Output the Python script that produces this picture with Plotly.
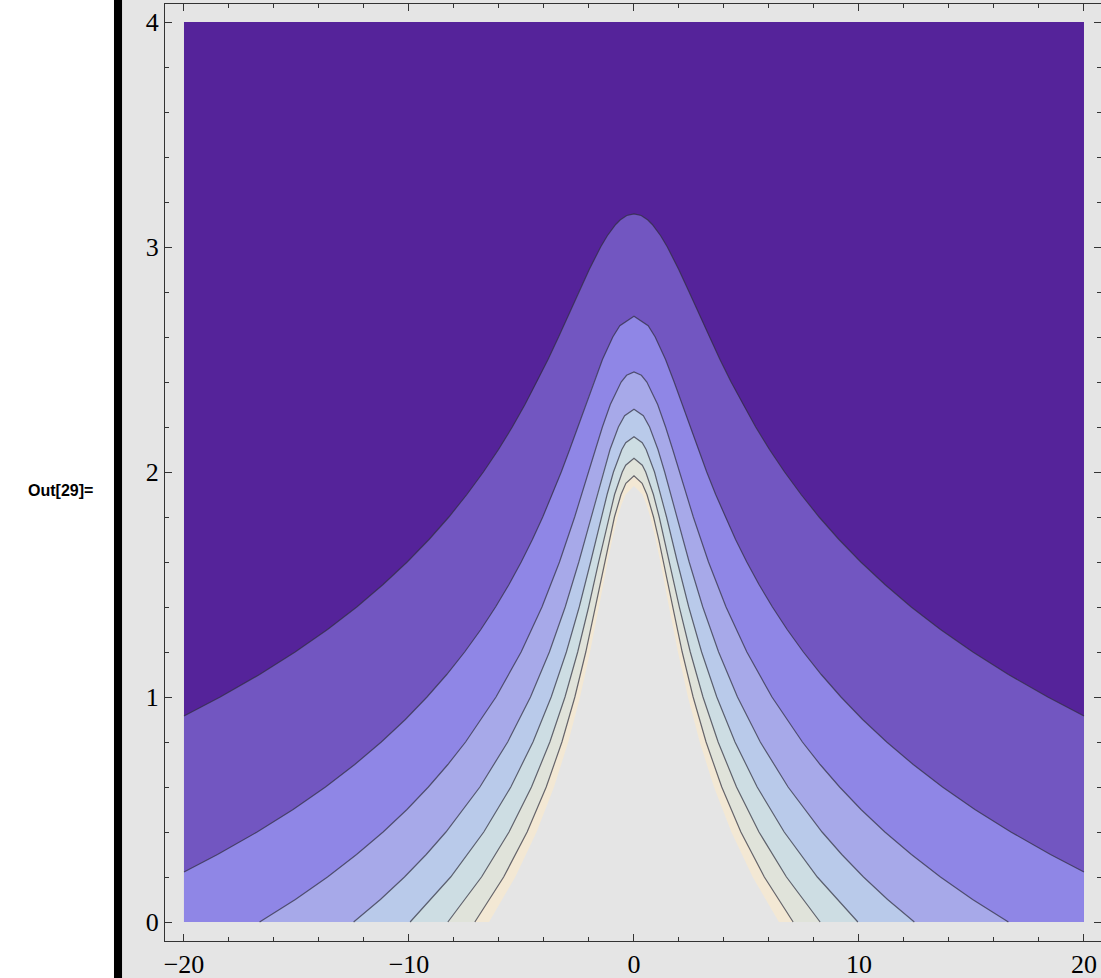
import plotly.graph_objects as go

# ---- data (right half; the plot is symmetric in x) ----
x_range = [-20, 20]
y_range = [0, 4]

c1_y = [3.147, 3.14, 3.12, 3.1, 3.05, 3.0, 2.9, 2.8, 2.7, 2.6, 2.5, 2.4, 2.3, 2.2, 2.1, 2.0, 1.9, 1.8, 1.7, 1.6, 1.5, 1.4, 1.3, 1.2, 1.1, 1.0, 0.916]
c1_x = [0, 0.321, 0.617, 0.813, 1.185, 1.482, 1.988, 2.450, 2.898, 3.352, 3.820, 4.315, 4.844, 5.408, 6.02, 6.693, 7.426, 8.226, 9.108, 10.08, 11.15, 12.32, 13.62, 15.06, 16.64, 18.39, 20.0]

c2_y = [2.6925, 2.65, 2.6, 2.5, 2.4, 2.3, 2.2, 2.1, 2.0, 1.9, 1.8, 1.7, 1.6, 1.5, 1.4, 1.3, 1.2, 1.1, 1.0, 0.9, 0.8, 0.7, 0.6, 0.5, 0.4, 0.3, 0.222]
c2_x = [0, 0.630, 0.942, 1.402, 1.784, 2.144, 2.497, 2.858, 3.232, 3.630, 4.055, 4.514, 5.012, 5.555, 6.152, 6.806, 7.527, 8.322, 9.198, 10.16, 11.23, 12.41, 13.71, 15.15, 16.75, 18.51, 20.0]

c3_y = [2.445, 2.43, 2.4, 2.3, 2.2, 2.1, 2.0, 1.8, 1.6, 1.4, 1.2, 1.0, 0.8, 0.7, 0.6, 0.5, 0.4, 0.3, 0.2, 0.1, 0.0]
c3_x = [0, 0.329, 0.571, 1.052, 1.404, 1.720, 2.021, 2.636, 3.311, 4.090, 5.016, 6.132, 7.485, 8.272, 9.138, 10.09, 11.15, 12.33, 13.62, 15.05, 16.64]

c4_y = [2.279, 2.25, 2.2, 2.1, 2.0, 1.9, 1.8, 1.6, 1.4, 1.2, 1.0, 0.8, 0.6, 0.4, 0.3, 0.2, 0.1, 0.0]
c4_x = [0, 0.416, 0.692, 1.065, 1.363, 1.639, 1.905, 2.452, 3.057, 3.760, 4.599, 5.613, 6.848, 8.358, 9.234, 10.20, 11.27, 12.46]

c5_y = [2.157, 2.13, 2.1, 2.0, 1.9, 1.8, 1.6, 1.4, 1.2, 1.0, 0.8, 0.6, 0.4, 0.2, 0.0]
c5_x = [0, 0.367, 0.539, 0.912, 1.195, 1.446, 1.928, 2.433, 3.005, 3.679, 4.489, 5.474, 6.676, 8.148, 9.950]

c6_y = [2.061, 2.03, 2.0, 1.9, 1.8, 1.6, 1.4, 1.2, 1.0, 0.8, 0.6, 0.4, 0.2, 0.0]
c6_x = [0, 0.369, 0.521, 0.863, 1.121, 1.572, 2.016, 2.502, 3.066, 3.739, 4.555, 5.554, 6.776, 8.273]

c7_y = [1.983, 1.95, 1.9, 1.8, 1.7, 1.6, 1.4, 1.2, 1.0, 0.8, 0.6, 0.4, 0.2, 0.0]
c7_x = [0, 0.361, 0.576, 0.868, 1.101, 1.311, 1.715, 2.142, 2.628, 3.203, 3.900, 4.750, 5.793, 7.073]

top_y = [1.938, 1.9, 1.85, 1.8, 1.7, 1.6, 1.4, 1.2, 1.0, 0.8, 0.6, 0.4, 0.2, 0.0]
top_x = [0, 0.376, 0.573, 0.722, 0.964, 1.172, 1.557, 1.953, 2.398, 2.922, 3.555, 4.329, 5.277, 6.442]

band_colors = ["#55239a", "#7256c1", "#8f86e6", "#a7a9e9", "#b9caea", "#cddde3", "#e0e3da", "#f3e8d4"]
bg_gray = "#e5e5e5"

contours = [(c1_x, c1_y), (c2_x, c2_y), (c3_x, c3_y), (c4_x, c4_y),
            (c5_x, c5_y), (c6_x, c6_y), (c7_x, c7_y)]


def full_curve(xs, ys):
    # left half (mirror) from bottom to peak, then right half from peak to bottom
    lx = [-v for v in xs[::-1]]
    ly = ys[::-1]
    return lx + xs[1:], ly + ys[1:]


fig = go.Figure()

# lowest band: whole data rectangle
fig.add_trace(go.Scatter(
    x=[x_range[0], x_range[1], x_range[1], x_range[0], x_range[0]],
    y=[y_range[0], y_range[0], y_range[1], y_range[1], y_range[0]],
    fill="toself", fillcolor=band_colors[0], mode="none",
    hoverinfo="skip", showlegend=False))

# filled superlevel regions
for i, (xs, ys) in enumerate(contours + [(top_x, top_y)]):
    cx, cy = full_curve(xs, ys)
    px = cx + [cx[-1], cx[0], cx[0]]
    py = cy + [y_range[0], y_range[0], cy[0]]
    color = band_colors[i + 1] if i + 1 < len(band_colors) else bg_gray
    fig.add_trace(go.Scatter(x=px, y=py, fill="toself", fillcolor=color,
                             mode="none", hoverinfo="skip", showlegend=False))

# contour lines
for xs, ys in contours:
    cx, cy = full_curve(xs, ys)
    fig.add_trace(go.Scatter(x=cx, y=cy, mode="lines",
                             line=dict(color="rgba(45,45,60,0.7)", width=1.2),
                             hoverinfo="skip", showlegend=False))

tick_font = dict(family="Liberation Serif", size=26, color="black")
axis_common = dict(showgrid=False, zeroline=False, showline=True, linecolor="#333333",
                   linewidth=1, mirror="allticks", ticks="inside", ticklen=7,
                   tickwidth=1, tickcolor="#333333", tickfont=tick_font)

fig.update_layout(
    width=1101, height=978,
    margin=dict(l=165, r=0, t=4, b=37),
    paper_bgcolor=bg_gray, plot_bgcolor=bg_gray,
    xaxis=dict(range=[-20.844, 20.756], tickvals=[-20, -10, 0, 10, 20],
               minor=dict(dtick=2, tick0=0, ticks="inside", ticklen=4, tickcolor="#333333", showgrid=False),
               **axis_common),
    yaxis=dict(range=[-0.0844, 4.08], tickvals=[0, 1, 2, 3, 4],
               minor=dict(dtick=0.2, tick0=0, ticks="inside", ticklen=4, tickcolor="#333333", showgrid=False),
               **axis_common),
    shapes=[
        dict(type="rect", xref="paper", yref="paper", x0=-0.18, x1=-0.0545, y0=-0.05, y1=1.01,
             fillcolor="white", line=dict(width=0), layer="below"),
        dict(type="rect", xref="paper", yref="paper", x0=-0.0545, x1=-0.0459, y0=-0.05, y1=1.01,
             fillcolor="black", line=dict(width=0), layer="below"),
    ],
    annotations=[dict(text="<b>Out[29]=</b>", xref="paper", yref="paper", x=-0.0748, y=0.4813,
                      xanchor="right", yanchor="middle", showarrow=False,
                      font=dict(family="Liberation Sans", size=16, color="black"))],
)

fig.write_html("out.html", config={"displayModeBar": False},
               post_script="document.body.style.margin='0';")
